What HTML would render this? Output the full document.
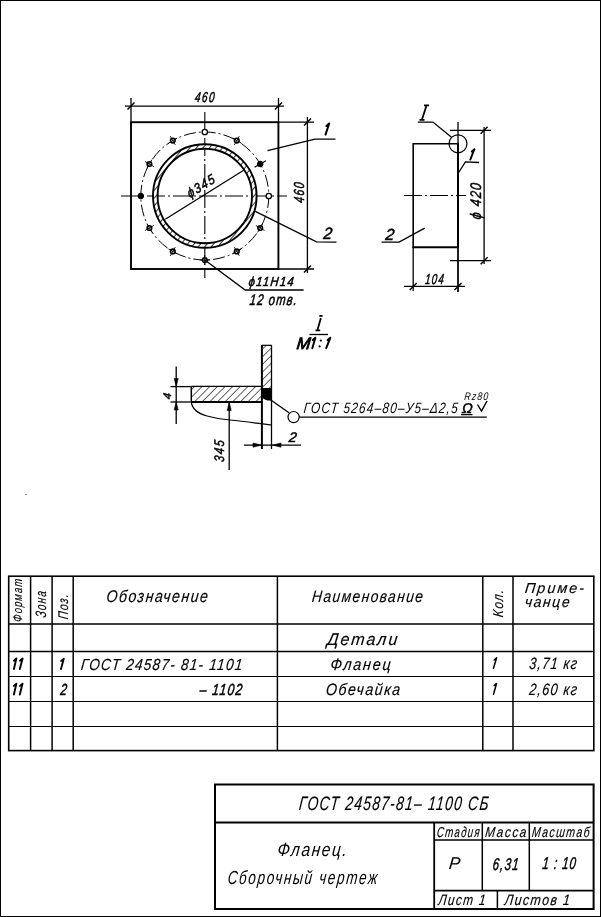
<!DOCTYPE html>
<html><head><meta charset="utf-8"><style>
html,body{margin:0;padding:0;background:#fff;width:601px;height:917px;overflow:hidden}
svg{position:absolute;left:0;top:0;filter:grayscale(1)}
.s{font-family:"Liberation Serif",serif;fill:#000;stroke:none}
.t{font-family:"Liberation Sans",sans-serif;font-style:italic;fill:#000;stroke:#000;stroke-width:0.15px}
.tl{font-family:"Liberation Sans",sans-serif;font-style:italic;fill:#000;stroke:none}
.tbb{font-family:"Liberation Sans",sans-serif;font-style:italic;fill:#000;stroke:#000;stroke-width:0.9px}
.tb{font-family:"Liberation Sans",sans-serif;font-style:italic;fill:#000;stroke:#000;stroke-width:0.5px}
</style></head><body>
<svg width="601" height="917" viewBox="0 0 601 917" stroke="#000" stroke-linecap="butt">
<defs><pattern id="hat" width="5" height="5" patternUnits="userSpaceOnUse" patternTransform="rotate(40)"><rect width="5" height="5" fill="#fff" stroke="none"/><line x1="0" y1="0" x2="0" y2="5" stroke="#000" stroke-width="1.6"/></pattern><pattern id="hat2" width="5.4" height="5.4" patternUnits="userSpaceOnUse" patternTransform="rotate(45)"><rect width="5.4" height="5.4" fill="#fff" stroke="none"/><line x1="0" y1="0" x2="0" y2="5.4" stroke="#000" stroke-width="1.2"/></pattern></defs>
<circle cx="26" cy="494.5" r="0.8" fill="#666" stroke="none"/>
<rect x="0.5" y="0.5" width="600" height="916" fill="none" stroke-width="1"/>
<rect x="8.7" y="576.2" width="585.1" height="174.4" fill="none" stroke-width="1.6"/>
<line x1="30.6" y1="576.2" x2="30.6" y2="750.6" stroke-width="1.5" />
<line x1="52.1" y1="576.2" x2="52.1" y2="750.6" stroke-width="1.5" />
<line x1="73.2" y1="576.2" x2="73.2" y2="750.6" stroke-width="1.5" />
<line x1="277.4" y1="576.2" x2="277.4" y2="750.6" stroke-width="1.5" />
<line x1="482.8" y1="576.2" x2="482.8" y2="750.6" stroke-width="1.5" />
<line x1="513.0" y1="576.2" x2="513.0" y2="750.6" stroke-width="1.5" />
<line x1="8.7" y1="624.1" x2="593.8" y2="624.1" stroke-width="1.5" />
<line x1="8.7" y1="651.5" x2="593.8" y2="651.5" stroke-width="1.5" />
<line x1="8.7" y1="676.5" x2="593.8" y2="676.5" stroke-width="1.1" />
<line x1="8.7" y1="701.5" x2="593.8" y2="701.5" stroke-width="1.1" />
<line x1="8.7" y1="726.5" x2="593.8" y2="726.5" stroke-width="1.1" />
<rect x="215" y="784.5" width="378.6" height="124.5" fill="none" stroke-width="2"/>
<line x1="215.0" y1="822.5" x2="593.6" y2="822.5" stroke-width="1.8" />
<line x1="434.2" y1="822.5" x2="434.2" y2="909.0" stroke-width="1.8" />
<line x1="434.2" y1="840.1" x2="593.6" y2="840.1" stroke-width="1.5" />
<line x1="482.3" y1="822.5" x2="482.3" y2="890.7" stroke-width="1.5" />
<line x1="529.3" y1="822.5" x2="529.3" y2="890.7" stroke-width="1.5" />
<line x1="434.2" y1="890.7" x2="593.6" y2="890.7" stroke-width="1.8" />
<line x1="497.4" y1="890.7" x2="497.4" y2="909.0" stroke-width="1.5" />
<g transform="translate(17.1,600.2) rotate(-90) translate(-22.0,4.7) skewX(-6) scale(0.717,1)"><text x="0" y="0" font-size="13.0" textLength="60.0" lengthAdjust="spacing" class="t">Формат</text></g>
<g transform="translate(40.4,604.0) rotate(-90) translate(-13.8,5.4) skewX(-6) scale(0.664,1)"><text x="0" y="0" font-size="15.0" textLength="39.7" lengthAdjust="spacing" class="t">Зона</text></g>
<g transform="translate(63.0,606.5) rotate(-90) translate(-12.9,5.0) skewX(-6) scale(0.755,1)"><text x="0" y="0" font-size="14.0" textLength="32.8" lengthAdjust="spacing" class="t">Поз.</text></g>
<g transform="translate(106.0,602.0) skewX(-6) scale(0.838,1)"><text x="0" y="0" font-size="17.0" textLength="121.1" lengthAdjust="spacing" class="t" >Обозначение</text></g>
<g transform="translate(311.5,602.0) skewX(-6) scale(0.839,1)"><text x="0" y="0" font-size="16.5" textLength="132.4" lengthAdjust="spacing" class="t" >Наименование</text></g>
<g transform="translate(497.5,603.2) rotate(-90) translate(-14.2,5.2) skewX(-6) scale(0.824,1)"><text x="0" y="0" font-size="14.5" textLength="33.1" lengthAdjust="spacing" class="t">Кол.</text></g>
<g transform="translate(524.4,592.8) skewX(-6) scale(1.000,1)"><text x="0" y="0" font-size="14.5" textLength="59.3" lengthAdjust="spacing" class="t" >Приме-</text></g>
<g transform="translate(524.4,606.5) skewX(-6) scale(0.933,1)"><text x="0" y="0" font-size="15.0" textLength="48.0" lengthAdjust="spacing" class="t" >чанце</text></g>
<g transform="translate(326.7,645.0) skewX(-6) scale(0.952,1)"><text x="0" y="0" font-size="17.0" textLength="73.8" lengthAdjust="spacing" class="t" >Детали</text></g>
<path d="M13.9,669.0 L16.4,658.4 L13.8,660.7" fill="none" stroke-width="1.9" stroke-linejoin="round" stroke-linecap="round"/>
<path d="M19.8,669.0 L22.6,658.4 L20.0,660.7" fill="none" stroke-width="1.9" stroke-linejoin="round" stroke-linecap="round"/>
<path d="M61.0,669.0 L63.8,658.6 L61.2,660.9" fill="none" stroke-width="1.9" stroke-linejoin="round" stroke-linecap="round"/>
<g transform="translate(80.5,669.8) skewX(-6) scale(0.856,1)"><text x="0" y="0" font-size="16.0" textLength="188.5" lengthAdjust="spacing" class="t" >ГОСТ 24587- 81- 1101</text></g>
<g transform="translate(330.0,669.5) skewX(-6) scale(0.879,1)"><text x="0" y="0" font-size="16.5" textLength="68.5" lengthAdjust="spacing" class="t" >Фланец</text></g>
<path d="M493.5,668.2 L496.6,657.8 L494.2,660.0" fill="none" stroke-width="1.5" stroke-linejoin="round" stroke-linecap="round"/>
<g transform="translate(528.8,669.2) skewX(-6) scale(0.782,1)"><text x="0" y="0" font-size="16.5" textLength="61.2" lengthAdjust="spacing" class="t" >3,71 кг</text></g>
<path d="M13.9,694.5 L16.4,683.6 L13.8,685.9" fill="none" stroke-width="1.9" stroke-linejoin="round" stroke-linecap="round"/>
<path d="M19.8,694.5 L22.6,683.6 L20.0,685.9" fill="none" stroke-width="1.9" stroke-linejoin="round" stroke-linecap="round"/>
<g transform="translate(60.0,694.8) skewX(-6) scale(0.728,1)"><text x="0" y="0" font-size="16.0" textLength="7.4" lengthAdjust="spacing" class="tb" >2</text></g>
<g transform="translate(199.3,695.0) skewX(-6) scale(0.765,1)"><text x="0" y="0" font-size="16.0" textLength="55.5" lengthAdjust="spacing" class="tb" >– 1102</text></g>
<g transform="translate(325.5,694.8) skewX(-6) scale(0.860,1)"><text x="0" y="0" font-size="16.5" textLength="86.3" lengthAdjust="spacing" class="t" >Обечайка</text></g>
<path d="M493.5,694.2 L496.6,683.4 L494.2,685.6" fill="none" stroke-width="1.5" stroke-linejoin="round" stroke-linecap="round"/>
<g transform="translate(528.8,694.5) skewX(-6) scale(0.782,1)"><text x="0" y="0" font-size="16.5" textLength="61.2" lengthAdjust="spacing" class="t" >2,60 кг</text></g>
<g transform="translate(298.6,809.6) skewX(-6) scale(0.712,1)"><text x="0" y="0" font-size="19.5" textLength="265.9" lengthAdjust="spacing" class="t" >ГОСТ 24587-81– 1100 СБ</text></g>
<g transform="translate(277.0,856.0) skewX(-6) scale(0.816,1)"><text x="0" y="0" font-size="19.0" textLength="85.0" lengthAdjust="spacing" class="tl" >Фланец.</text></g>
<g transform="translate(227.2,884.0) skewX(-6) scale(0.712,1)"><text x="0" y="0" font-size="19.0" textLength="210.3" lengthAdjust="spacing" class="tl" >Сборочный  чертеж</text></g>
<g transform="translate(436.6,837.1) skewX(-6) scale(0.674,1)"><text x="0" y="0" font-size="14.5" textLength="63.1" lengthAdjust="spacing" class="t" >Стадия</text></g>
<g transform="translate(484.8,837.1) skewX(-6) scale(0.825,1)"><text x="0" y="0" font-size="14.5" textLength="49.9" lengthAdjust="spacing" class="t" >Масса</text></g>
<g transform="translate(531.4,837.1) skewX(-6) scale(0.733,1)"><text x="0" y="0" font-size="14.5" textLength="78.8" lengthAdjust="spacing" class="t" >Масштаб</text></g>
<g transform="translate(448.6,868.7) skewX(-6) scale(0.986,1)"><text x="0" y="0" font-size="17.0" textLength="9.4" lengthAdjust="spacing" class="t" >Р</text></g>
<g transform="translate(492.3,869.5) skewX(-6) scale(0.671,1)"><text x="0" y="0" font-size="17.0" textLength="38.5" lengthAdjust="spacing" class="tb" >6,31</text></g>
<g transform="translate(542.0,868.7) skewX(-6) scale(0.674,1)"><text x="0" y="0" font-size="17.0" textLength="49.5" lengthAdjust="spacing" class="tb" >1 : 10</text></g>
<g transform="translate(438.0,904.9) skewX(-6) scale(0.793,1)"><text x="0" y="0" font-size="15.0" textLength="59.5" lengthAdjust="spacing" class="t" >Лист 1</text></g>
<g transform="translate(504.3,904.9) skewX(-6) scale(0.835,1)"><text x="0" y="0" font-size="15.0" textLength="78.1" lengthAdjust="spacing" class="t" >Листов 1</text></g>
<rect x="131" y="122.2" width="147.4" height="146.8" fill="none" stroke-width="1.9"/>
<line x1="121" y1="196.0" x2="287" y2="196.0" stroke-width="1.1" stroke-dasharray="18,3,2,3"/>
<line x1="204.8" y1="112" x2="204.8" y2="278" stroke-width="1.1" stroke-dasharray="18,3,2,3"/>
<circle cx="204.8" cy="196.0" r="64" fill="none" stroke-width="1" stroke-dasharray="12,3,2,3"/>
<circle cx="204.8" cy="196.0" r="49.5" fill="none" stroke-width="4.4" stroke="url(#hat)"/>
<circle cx="204.8" cy="196.0" r="51.8" fill="none" stroke-width="1.9"/>
<circle cx="204.8" cy="196.0" r="47.2" fill="none" stroke-width="1.9"/>
<circle cx="268.8" cy="196.0" r="2.7" fill="#fff" stroke-width="1.3"/>
<circle cx="260.2" cy="228.0" r="2.3" fill="#fff" stroke-width="1.6"/>
<line x1="262.7" y1="223.7" x2="257.7" y2="232.3" stroke-width="0.9" />
<line x1="255.9" y1="225.5" x2="264.6" y2="230.5" stroke-width="0.9" />
<circle cx="236.8" cy="251.4" r="2.3" fill="#fff" stroke-width="1.6"/>
<line x1="241.1" y1="248.9" x2="232.5" y2="253.9" stroke-width="0.9" />
<line x1="234.3" y1="247.1" x2="239.3" y2="255.8" stroke-width="0.9" />
<circle cx="204.8" cy="260.0" r="2.3" fill="#fff" stroke-width="1.6"/>
<line x1="209.8" y1="260.0" x2="199.8" y2="260.0" stroke-width="0.9" />
<line x1="204.8" y1="255.0" x2="204.8" y2="265.0" stroke-width="0.9" />
<circle cx="172.8" cy="251.4" r="2.3" fill="#fff" stroke-width="1.6"/>
<line x1="177.1" y1="253.9" x2="168.5" y2="248.9" stroke-width="0.9" />
<line x1="175.3" y1="247.1" x2="170.3" y2="255.8" stroke-width="0.9" />
<circle cx="149.4" cy="228.0" r="2.3" fill="#fff" stroke-width="1.6"/>
<line x1="151.9" y1="232.3" x2="146.9" y2="223.7" stroke-width="0.9" />
<line x1="153.7" y1="225.5" x2="145.0" y2="230.5" stroke-width="0.9" />
<circle cx="140.8" cy="196.0" r="2.8" fill="#000" stroke-width="1"/>
<circle cx="149.4" cy="164.0" r="2.3" fill="#fff" stroke-width="1.6"/>
<line x1="146.9" y1="168.3" x2="151.9" y2="159.7" stroke-width="0.9" />
<line x1="153.7" y1="166.5" x2="145.0" y2="161.5" stroke-width="0.9" />
<circle cx="172.8" cy="140.6" r="2.3" fill="#fff" stroke-width="1.6"/>
<line x1="168.5" y1="143.1" x2="177.1" y2="138.1" stroke-width="0.9" />
<line x1="175.3" y1="144.9" x2="170.3" y2="136.2" stroke-width="0.9" />
<circle cx="204.8" cy="132.0" r="2.7" fill="#fff" stroke-width="1.3"/>
<circle cx="236.8" cy="140.6" r="2.3" fill="#fff" stroke-width="1.6"/>
<line x1="232.5" y1="138.1" x2="241.1" y2="143.1" stroke-width="0.9" />
<line x1="234.3" y1="144.9" x2="239.3" y2="136.2" stroke-width="0.9" />
<circle cx="260.2" cy="164.0" r="2.8" fill="#000" stroke-width="1"/>
<line x1="254.6" y1="167.2" x2="265.9" y2="160.7" stroke-width="1.3" />
<line x1="131.0" y1="98.0" x2="131.0" y2="122.0" stroke-width="1.3" />
<line x1="278.5" y1="98.0" x2="278.5" y2="122.0" stroke-width="1.3" />
<line x1="125.0" y1="106.2" x2="284.0" y2="106.2" stroke-width="1.3" />
<line x1="127.5" y1="109.5" x2="134.5" y2="102.5" stroke-width="1.4" />
<line x1="275.0" y1="109.5" x2="282.0" y2="102.5" stroke-width="1.4" />
<g transform="translate(194.5,101.6) skewX(-6) scale(0.711,1)"><text x="0" y="0" font-size="14.3" textLength="27.7" lengthAdjust="spacing" class="tb" >460</text></g>
<line x1="278.0" y1="122.2" x2="314.0" y2="122.2" stroke-width="1.3" />
<line x1="278.0" y1="269.0" x2="314.0" y2="269.0" stroke-width="1.3" />
<line x1="307.4" y1="117.0" x2="307.4" y2="273.0" stroke-width="1.3" />
<line x1="304.0" y1="125.5" x2="311.0" y2="118.5" stroke-width="1.4" />
<line x1="304.0" y1="272.5" x2="311.0" y2="265.5" stroke-width="1.4" />
<g transform="translate(299.2,192.5) rotate(-90) translate(-10.8,5.2) skewX(-6) scale(0.729,1)"><text x="0" y="0" font-size="14.5" textLength="28.1" lengthAdjust="spacing" class="tb">460</text></g>
<line x1="165.3" y1="219.2" x2="244.5" y2="169.8" stroke-width="1.3" />
<g transform="translate(200.8,185.8) rotate(-32) translate(-15.8,4.8) skewX(-6) scale(0.873,1)"><text x="0" y="0" font-size="13.5" textLength="34.9" lengthAdjust="spacing" class="tb">ϕ345</text></g>
<polyline points="267.5,150.7 315.0,139.2 335.5,139.2" fill="none" stroke-width="1.3" />
<path d="M325.5,134.6 L329.2,123.5 L326.4,126.0" fill="none" stroke-width="2.0" stroke-linejoin="round" stroke-linecap="round"/>
<polyline points="255.3,211.3 316.5,241.8 336.5,242.2" fill="none" stroke-width="1.3" />
<g transform="translate(323.0,239.0) skewX(-6) scale(0.949,1)"><text x="0" y="0" font-size="16.5" textLength="7.6" lengthAdjust="spacing" class="tb" >2</text></g>
<polyline points="204.8,260.0 245.2,290.0 303.6,290.0" fill="none" stroke-width="1.3" />
<g transform="translate(248.2,286.3) skewX(-6) scale(0.869,1)"><text x="0" y="0" font-size="13.0" textLength="51.8" lengthAdjust="spacing" class="tb" >ϕ11H14</text></g>
<g transform="translate(249.3,304.9) skewX(-6) scale(0.737,1)"><text x="0" y="0" font-size="15.4" textLength="64.1" lengthAdjust="spacing" class="tb" >12 отв.</text></g>
<line x1="413.2" y1="143.8" x2="458.0" y2="143.8" stroke-width="1.6" />
<line x1="413.2" y1="143.0" x2="413.2" y2="248.0" stroke-width="1.6" />
<line x1="412.5" y1="247.2" x2="458.0" y2="247.2" stroke-width="2.1" />
<line x1="458.0" y1="122.0" x2="458.0" y2="292.0" stroke-width="1.3" />
<line x1="458.0" y1="143.0" x2="458.0" y2="248.0" stroke-width="2.0" />
<line x1="413.2" y1="247.0" x2="413.2" y2="291.0" stroke-width="1.3" />
<line x1="404" y1="195.5" x2="466" y2="195.5" stroke-width="1.1" stroke-dasharray="18,3,2,3"/>
<circle cx="458" cy="143.8" r="9" fill="none" stroke-width="1.2"/>
<line x1="450.0" y1="130.3" x2="491.0" y2="130.3" stroke-width="1.3" />
<line x1="450.0" y1="260.7" x2="491.0" y2="260.7" stroke-width="1.3" />
<line x1="484.1" y1="127.0" x2="484.1" y2="264.0" stroke-width="1.3" />
<line x1="480.6" y1="133.8" x2="487.6" y2="126.8" stroke-width="1.4" />
<line x1="480.6" y1="264.2" x2="487.6" y2="257.2" stroke-width="1.4" />
<g transform="translate(475.5,201.0) rotate(-90) translate(-18.7,5.5) skewX(-6) scale(0.814,1)"><text x="0" y="0" font-size="15.3" textLength="44.5" lengthAdjust="spacing" class="tb">ϕ 420</text></g>
<polyline points="451.5,137.3 432.9,122.1 417.8,122.1" fill="none" stroke-width="1.3" />
<path d="M426.5,105.5 L422,119.5 M424,105.3 L429,105.3 M419.5,119.8 L424.5,119.8" fill="none" stroke-width="1.8"/>
<polyline points="458.0,173.5 465.4,161.8 479.0,162.5" fill="none" stroke-width="1.3" />
<path d="M470.3,159.6 L474.4,149.2 L471.8,151.5" fill="none" stroke-width="1.9" stroke-linejoin="round" stroke-linecap="round"/>
<polyline points="424.7,228.1 399.1,242.1 381.6,242.1" fill="none" stroke-width="1.3" />
<g transform="translate(385.0,240.0) skewX(-6) scale(1.000,1)"><text x="0" y="0" font-size="16.0" textLength="8.3" lengthAdjust="spacing" class="tb" >2</text></g>
<line x1="404.0" y1="286.4" x2="465.0" y2="286.4" stroke-width="1.3" />
<line x1="409.7" y1="289.9" x2="416.7" y2="282.9" stroke-width="1.4" />
<line x1="454.5" y1="289.9" x2="461.5" y2="282.9" stroke-width="1.4" />
<line x1="458.0" y1="247.0" x2="458.0" y2="292.0" stroke-width="1.3" />
<g transform="translate(424.7,284.0) skewX(-6) scale(0.665,1)"><text x="0" y="0" font-size="14.5" textLength="28.1" lengthAdjust="spacing" class="tb" >104</text></g>
<path d="M320.9,318 L317.6,329.4 M319.3,315.9 L322.6,315.9 M315.5,330.3 L320.2,330.3" fill="none" stroke-width="1.8"/>
<line x1="309.5" y1="334.5" x2="328.0" y2="334.5" stroke-width="1.3" />
<g transform="translate(296.2,348.8) skewX(-6) scale(1.000,1)"><text x="0" y="0" font-size="16.5" textLength="11.6" lengthAdjust="spacing" class="tbb" >M</text></g>
<path d="M312.3,348.2 L315.4,337.8 L312.8,340.1" fill="none" stroke-width="2.0" stroke-linejoin="round" stroke-linecap="round"/>
<circle cx="320.8" cy="340.6" r="1.1" fill="#000" stroke="none"/>
<circle cx="319.6" cy="346.4" r="1.1" fill="#000" stroke="none"/>
<path d="M326.2,348.2 L330.3,337.8 L327.7,340.1" fill="none" stroke-width="2.0" stroke-linejoin="round" stroke-linecap="round"/>
<rect x="191.3" y="386.4" width="70.6" height="15.5" fill="url(#hat2)" stroke="none"/>
<line x1="191.3" y1="386.4" x2="261.9" y2="386.4" stroke-width="1.3" />
<line x1="191.3" y1="401.9" x2="261.9" y2="401.9" stroke-width="2.0" />
<line x1="191.3" y1="386.4" x2="191.3" y2="401.9" stroke-width="1.5" />
<rect x="261.9" y="345.2" width="9.6" height="44" fill="url(#hat2)" stroke="none"/>
<line x1="261.9" y1="345.0" x2="261.9" y2="449.0" stroke-width="2.0" />
<line x1="271.5" y1="345.0" x2="271.5" y2="449.0" stroke-width="1.3" />
<line x1="261.9" y1="345.3" x2="271.5" y2="345.3" stroke-width="1.2" />
<path d="M261.9,388 L271.5,388 L271.5,400.5 C268,401 264,400 261.9,397 Z" fill="#000" stroke="none"/>
<path d="M191.3,401.9 C192,408 196,413 207,416 C216,418.5 222,419.5 230,420 C245,421.5 255,423 271.5,425" fill="none" stroke-width="1.2"/>
<line x1="170.5" y1="386.6" x2="190.8" y2="386.6" stroke-width="1.3" />
<line x1="170.5" y1="402.0" x2="190.8" y2="402.0" stroke-width="1.3" />
<line x1="176.2" y1="366.5" x2="176.2" y2="424.0" stroke-width="1.3" />
<path d="M176.2,386.6 L174.2,378.5 L178.2,378.5 Z" fill="#000" stroke-width="0.6"/>
<path d="M176.2,402 L174.2,410 L178.2,410 Z" fill="#000" stroke-width="0.6"/>
<g transform="translate(167.5,395.5) rotate(-90) translate(-4.0,3.9) skewX(-6) scale(1.000,1)"><text x="0" y="0" font-size="11.0" textLength="7.2" lengthAdjust="spacing" class="tb">4</text></g>
<line x1="229.2" y1="402.0" x2="229.2" y2="470.0" stroke-width="1.3" />
<path d="M229.2,402 L227.2,410.5 L231.2,410.5 Z" fill="#000" stroke-width="0.6"/>
<g transform="translate(218.7,451.0) rotate(-90) translate(-11.2,5.0) skewX(-6) scale(0.790,1)"><text x="0" y="0" font-size="14.0" textLength="27.2" lengthAdjust="spacing" class="tb">345</text></g>
<line x1="243.9" y1="445.1" x2="301.0" y2="445.1" stroke-width="1.3" />
<path d="M261.6,445.1 L253,443 L253,447.2 Z" fill="#000" stroke-width="0.6"/>
<path d="M272.4,445.1 L281,443 L281,447.2 Z" fill="#000" stroke-width="0.6"/>
<g transform="translate(288.5,442.3) skewX(-6) scale(1.000,1)"><text x="0" y="0" font-size="14.0" textLength="6.9" lengthAdjust="spacing" class="tb" >2</text></g>
<line x1="270.5" y1="399.8" x2="289.0" y2="412.8" stroke-width="1.3" />
<circle cx="293.6" cy="417.1" r="5.6" fill="#fff" stroke-width="1.2"/>
<line x1="299.2" y1="417.1" x2="486.8" y2="417.1" stroke-width="1.2" />
<g transform="translate(303.3,413.4) skewX(-6) scale(0.794,1)"><text x="0" y="0" font-size="15.0" textLength="194.1" lengthAdjust="spacing" class="tl" >ГОСТ 5264–80–У5–Δ2,5</text></g>
<g transform="translate(461.4,413.0) skewX(-6) scale(1.000,1)"><text x="0" y="0" font-size="14.0" textLength="9.9" lengthAdjust="spacing" class="tb" >Ω</text></g>
<line x1="461.0" y1="414.6" x2="472.5" y2="414.6" stroke-width="1.3" />
<polyline points="477.5,404.5 481.5,411.2 487.0,401.0" fill="none" stroke-width="1.4" />
<g transform="translate(464.1,400.1) skewX(-6) scale(0.799,1)"><text x="0" y="0" font-size="11.0" textLength="29.9" lengthAdjust="spacing" class="tl" >Rz80</text></g>
</svg></body></html>
